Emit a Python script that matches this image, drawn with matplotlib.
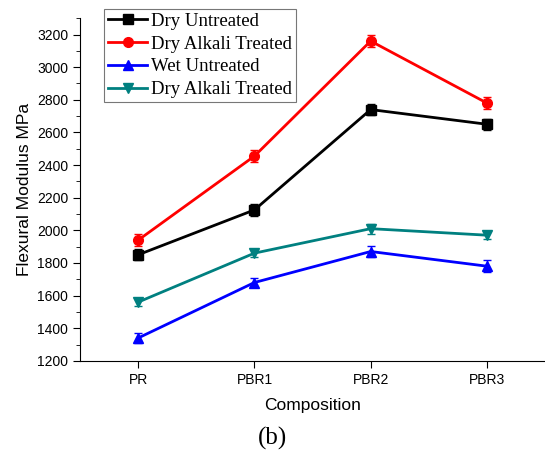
import matplotlib.pyplot as plt
import numpy as np

compositions = ['PR', 'PBR1', 'PBR2', 'PBR3']
dry_untreated = [1850, 2125, 2740, 2650]
dry_alkali = [1940, 2455, 3160, 2780]
wet_untreated = [1340, 1680, 1870, 1780]
wet_alkali = [1560, 1860, 2010, 1970]
err_dry_untreated = [35, 35, 35, 35]
err_dry_alkali = [35, 35, 35, 35]
err_wet_untreated = [30, 30, 35, 35]
err_wet_alkali = [25, 25, 30, 25]

plt.rcParams['font.family'] = ['Liberation Sans', 'DejaVu Sans']

fig = plt.figure(figsize=(5.45, 4.55), dpi=100)
ax = fig.add_axes([0.147, 0.207, 0.853, 0.753])

x = np.arange(len(compositions))
series = [
    (dry_untreated, err_dry_untreated, 'black', 's', 'Dry Untreated'),
    (dry_alkali, err_dry_alkali, 'red', 'o', 'Dry Alkali Treated'),
    (wet_untreated, err_wet_untreated, 'blue', '^', 'Wet Untreated'),
    (wet_alkali, err_wet_alkali, '#008080', 'v', 'Dry Alkali Treated'),
]
handles = []
for vals, err, col, mk, lab in series:
    c = ax.errorbar(x, vals, yerr=err, color=col, marker=mk, markersize=7, lw=2,
                    capsize=3, elinewidth=1, ecolor=col, label=lab)
    handles.append(c[0])

ax.set_xlim(-0.5, 3.5)
ax.set_ylim(1200, 3300)
ax.set_xticks(x)
ax.set_xticklabels(compositions)
ax.set_yticks(np.arange(1200, 3201, 200))
ax.set_yticks(np.arange(1200, 3301, 100), minor=True)
ax.spines['top'].set_visible(False)
ax.spines['right'].set_visible(False)
ax.tick_params(labelsize=10, direction='out', length=5)
ax.tick_params(which='minor', length=3)
ax.set_xlabel('Composition', fontsize=12.5, labelpad=8)
ax.set_ylabel('Flexural Modulus MPa', fontsize=12.5)

leg = ax.legend(handles, [s[4] for s in series], loc='upper left',
                bbox_to_anchor=(0.191, 0.98), bbox_transform=fig.transFigure,
                prop={'family': 'Liberation Serif', 'size': 13.5}, frameon=True, fancybox=False,
                handlelength=2.1, borderpad=0.2, labelspacing=0.3, handletextpad=0.2,
                borderaxespad=0)
leg.get_frame().set_edgecolor('#555555')
leg.get_frame().set_linewidth(0.8)

fig.text(0.5, 0.036, '(b)', ha='center', va='center', fontsize=18, family='Liberation Serif')

fig.savefig('out.png', dpi=100)
